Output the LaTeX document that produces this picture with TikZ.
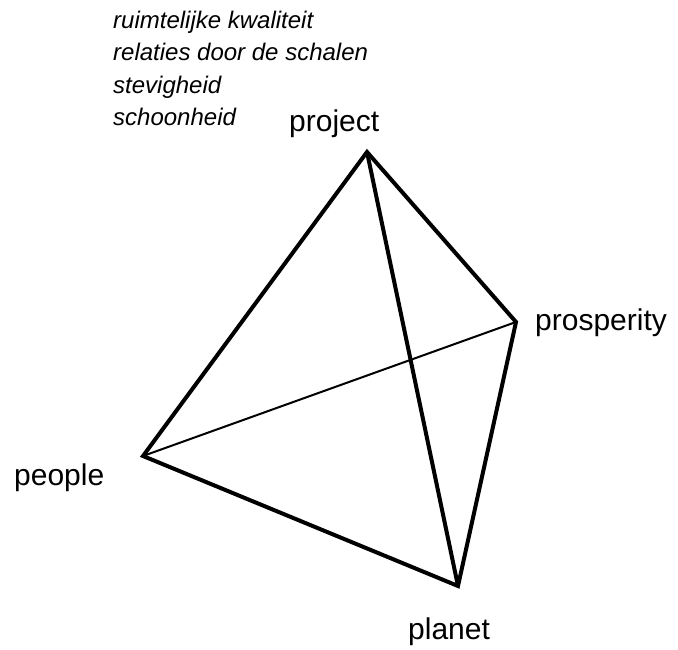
\documentclass[tikz,border=0pt]{standalone}
\usepackage{fontspec}
\setmainfont{Liberation Sans}
\usepackage{tikz}

\tikzset{
  edge/.style={line width=4pt},
  backedge/.style={line width=2pt},
  corner/.style={anchor=base west, inner sep=0pt, font=\fontsize{30}{36}\selectfont},
  aspect/.style={anchor=base west, inner sep=0pt, font=\fontsize{24}{28}\selectfont\itshape}
}

\begin{document}
\begin{tikzpicture}[x=1pt, y=1pt]
  \useasboundingbox (0,0) rectangle (678,649);

  % Corners
  \coordinate (project) at (367,497);
  \coordinate (prosperity) at (516,327);
  \coordinate (people) at (143,193);
  \coordinate (planet) at (458,63);

  % Labels
  \node[corner] (projectlabel) at (289,517) {project};
  \node[corner] (prosperitylabel) at (535,318) {prosperity};
  \node[corner] (peoplelabel) at (14,164) {people};
  \node[corner] (planetlabel) at (408,10) {planet};

  % Aspects
  \node[aspect] (kwaliteit) at (113,620) {ruimtelijke kwaliteit};
  \node[aspect] (relaties) at (113,588) {relaties door de schalen};
  \node[aspect] (stevigheid) at (113,555) {stevigheid};
  \node[aspect] (schoonheid) at (113,523) {schoonheid};

  % Hidden edge
  \draw[backedge] (people) -- (prosperity);

  % Tetrahedron
  \draw[edge] (project) -- (people) -- (planet) -- (prosperity) -- cycle;
  \draw[edge] (project) -- (planet);
\end{tikzpicture}
\end{document}
